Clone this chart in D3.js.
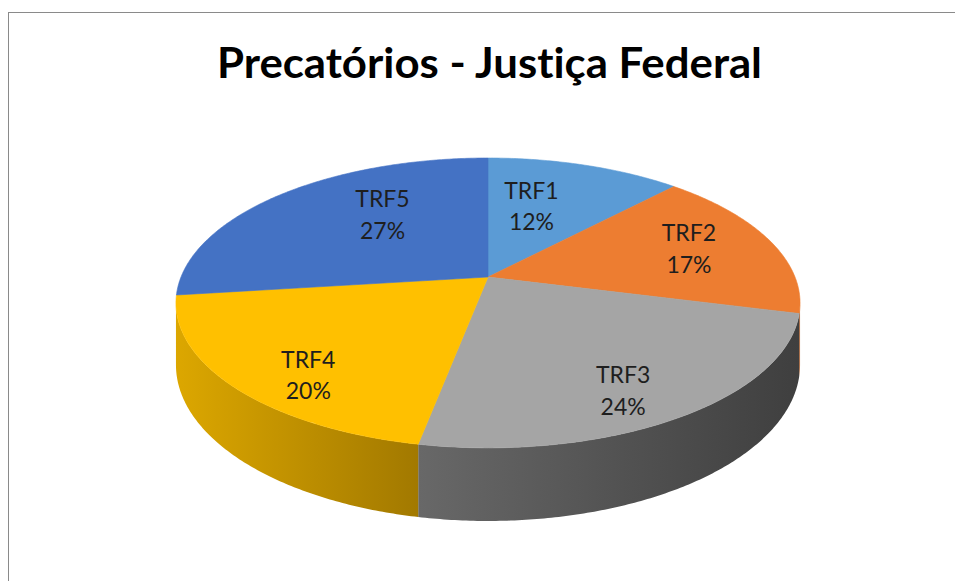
<!DOCTYPE html>
<html>
<head>
<meta charset="utf-8">
<script src="https://cdn.jsdelivr.net/npm/d3@7"></script>
<style>
  html, body { margin: 0; padding: 0; background: #fff; }
  svg { display: block; }
</style>
</head>
<body>
<svg id="chart" width="955" height="581"></svg>
<script>
// data
const categories = ['TRF1', 'TRF2', 'TRF3', 'TRF4', 'TRF5'];
const shares = [12, 17, 24, 20, 27];
const pctLabels = ['12%', '17%', '24%', '20%', '27%'];
const chartTitle = 'Precatórios - Justiça Federal';

// styles
const topColors = ['#5B9BD5', '#ED7D31', '#A5A5A5', '#FFC000', '#4472C4'];
const sideColors = [
  ['#4A80B2', '#35628C'],
  ['#C7682A', '#9E5020'],
  ['#686868', '#3F3F3F'],
  ['#DCA700', '#A27900'],
  ['#3960A6', '#2B4A82']
];
// small label shifts (px) like the spreadsheet's own label fitting
const labelNudge = [[-18, 0], [10, -3], [-13, 7], [12, 16], [29, -8]];

// 3d pie geometry (perspective tilted disk)
const pie3d = {
  cx: 488, cy: 277,   // apex of the top face
  r: 307,             // horizontal radius
  ry: 140.3,          // vertical radius before perspective
  persp: 0.179,       // perspective strength
  depth: 60           // thickness
};

function project(theta, rr, h) {
  const u = rr * Math.sin(theta);
  const v = -rr * Math.cos(theta);
  const w = 1 - pie3d.persp * v;
  return [pie3d.cx + pie3d.r * u / w, pie3d.cy + (pie3d.ry * v + pie3d.depth * h) / w];
}

function arcPoints(a0, a1, h) {
  const n = Math.max(2, Math.ceil(Math.abs(a1 - a0) / 0.01));
  return d3.range(n + 1).map(i => project(a0 + (a1 - a0) * i / n, 1, h));
}

const svg = d3.select('#chart');
const defs = svg.append('defs');
const line = d3.line().curve(d3.curveLinear);

// chart border
svg.append('rect')
  .attr('x', 8.5).attr('y', 12.5)
  .attr('width', 960).attr('height', 600)
  .attr('fill', 'none')
  .attr('stroke', '#8a8a8a')
  .attr('stroke-width', 1);

// title
const title = svg.append('text')
  .attr('x', 489.5).attr('y', 78)
  .attr('text-anchor', 'middle')
  .style('font-family', 'Lato, "Open Sans", sans-serif')
  .style('font-weight', 'bold')
  .style('font-size', '42px')
  .style('font-variant-ligatures', 'none')
  .attr('fill', '#000')
  .text(chartTitle);
const titleWidth = title.node().getComputedTextLength();
if (Math.abs(titleWidth - 545) > 6) {
  title.attr('textLength', 545).attr('lengthAdjust', 'spacingAndGlyphs');
}

const arcs = d3.pie().sort(null).startAngle(0).endAngle(2 * Math.PI)(shares);

// visible side runs between the silhouette points
const sideStart = Math.acos(-pie3d.persp);
const sideEnd = 2 * Math.PI - sideStart;

const sides = svg.append('g').attr('class', 'sides');
arcs.forEach((a, i) => {
  const a0 = Math.max(a.startAngle, sideStart);
  const a1 = Math.min(a.endAngle, sideEnd);
  if (a1 <= a0) return;
  const topPts = arcPoints(a0, a1, 0);
  const botPts = arcPoints(a1, a0, 1);
  const pts = topPts.concat(botPts);
  const xs = d3.extent(pts, p => p[0]);
  const gid = 'side-grad-' + i;
  const grad = defs.append('linearGradient')
    .attr('id', gid)
    .attr('gradientUnits', 'userSpaceOnUse')
    .attr('x1', xs[0]).attr('x2', xs[1]).attr('y1', 0).attr('y2', 0);
  grad.append('stop').attr('offset', '0%').attr('stop-color', sideColors[i][0]);
  grad.append('stop').attr('offset', '100%').attr('stop-color', sideColors[i][1]);
  sides.append('path')
    .attr('d', line(pts) + 'Z')
    .attr('fill', `url(#${gid})`);
});

// top faces
const tops = svg.append('g').attr('class', 'tops');
tops.selectAll('path')
  .data(arcs)
  .join('path')
    .attr('d', a => line([[pie3d.cx, pie3d.cy]].concat(arcPoints(a.startAngle, a.endAngle, 0))) + 'Z')
    .attr('fill', (a, i) => topColors[i])
    .attr('stroke', (a, i) => topColors[i])
    .attr('stroke-width', 0.6);

// data labels
const labels = svg.append('g').attr('class', 'labels')
  .style('font-family', 'Lato, "Open Sans", sans-serif')
  .style('font-size', '23px')
  .attr('fill', '#1e1e1e')
  .attr('text-anchor', 'middle');

arcs.forEach((a, i) => {
  const mid = (a.startAngle + a.endAngle) / 2;
  const vMid = -Math.cos(mid);
  const rr = 0.7 + 0.11 * vMid;
  const p = project(mid, rr, 0);
  const x = p[0] + labelNudge[i][0];
  const y = p[1] + labelNudge[i][1];
  const t = labels.append('text').attr('x', x).attr('y', y);
  t.append('tspan').attr('x', x).attr('y', y - 7.5).text(categories[i]);
  t.append('tspan').attr('x', x).attr('y', y + 24).text(pctLabels[i]);
});
</script>
</body>
</html>
